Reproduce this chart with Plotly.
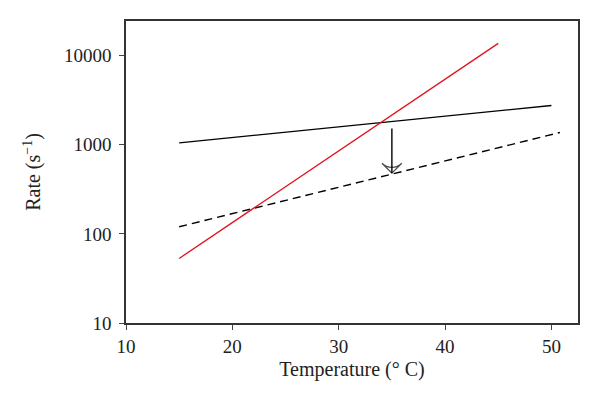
import math
import plotly.graph_objects as go

# Data
red_temp = [15, 45]
red_rate = [53, 13700]

solid_temp = [15, 50]
solid_rate = [1050, 2750]

dashed_temp = [15, 50.8]
dashed_rate = [120, 1370]

arrow_temp = [35, 35]
arrow_rate = [1520, 480]

x_ticks = [10, 20, 30, 40, 50]
y_ticks = [10, 100, 1000, 10000]
y_tick_labels = ["10", "100", "1000", "10000"]

FONT = "Liberation Serif"

fig = go.Figure()
fig.add_trace(go.Scatter(x=solid_temp, y=solid_rate, mode="lines",
                         line=dict(color="black", width=1.3), showlegend=False))
fig.add_trace(go.Scatter(x=dashed_temp, y=dashed_rate, mode="lines",
                         line=dict(color="black", width=1.4, dash="8px,5px"), showlegend=False))
fig.add_trace(go.Scatter(x=red_temp, y=red_rate, mode="lines",
                         line=dict(color="#e3101e", width=1.3), showlegend=False))
fig.add_trace(go.Scatter(x=arrow_temp, y=arrow_rate, mode="lines+markers",
                         line=dict(color="black", width=1.4),
                         marker=dict(symbol=["circle", "arrow-wide-open"], size=[0, 14],
                                     angle=[0, 180], color="black",
                                     line=dict(color="black", width=1.3)),
                         showlegend=False))

fig.update_layout(
    width=600, height=407,
    margin=dict(l=118, r=30, t=13, b=92),
    paper_bgcolor="white", plot_bgcolor="white",
    font=dict(family=FONT, size=19, color="#222"),
)
fig.update_xaxes(range=[10, 52.5], tickvals=x_ticks, ticks="outside", ticklen=5,
                 tickcolor="#444", showline=True, linecolor="#333", linewidth=1.5,
                 mirror=True, showgrid=False, zeroline=False,
                 title=dict(text="Temperature (° C)", font=dict(family=FONT, size=20), standoff=6))
fig.update_yaxes(type="log", range=[1, math.log10(24400)], tickvals=y_ticks,
                 ticktext=y_tick_labels, ticks="outside", ticklen=5, ticklabelstandoff=4,
                 tickcolor="#444", showline=True, linecolor="#333", linewidth=1.5,
                 mirror=True, showgrid=False, zeroline=False,
                 title=dict(text="Rate (s<sup>−1</sup>)", font=dict(family=FONT, size=20), standoff=18))

fig.write_html("out.html")
